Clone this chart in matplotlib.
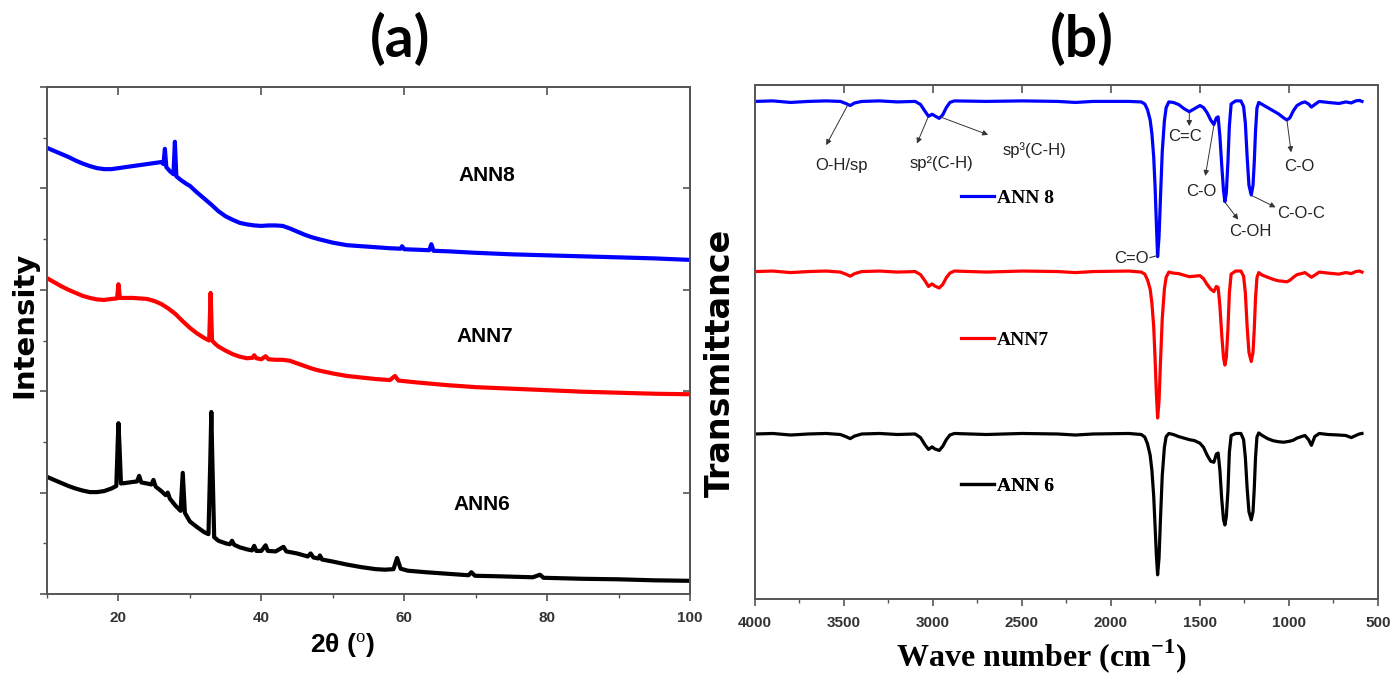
import numpy as np
import matplotlib
matplotlib.use("Agg")
import matplotlib.pyplot as plt
from matplotlib.ticker import MultipleLocator, NullFormatter

plt.rcParams['font.family'] = ['Liberation Sans', 'DejaVu Sans']
plt.rcParams['mathtext.fontset'] = 'custom'
plt.rcParams['mathtext.rm'] = 'Liberation Serif'
plt.rcParams['mathtext.bf'] = 'Liberation Serif:bold'

# ---------------- XRD data (2theta, offset intensity) ----------------
ann8_tt = [10, 11, 12, 13, 14, 15, 16, 17, 18, 19, 20, 21, 22, 23, 24, 25, 26.0, 26.3, 26.5, 26.7,
           27.2, 27.7, 27.9, 28.1, 28.6, 29.5, 30, 31, 32, 33, 34, 35, 36, 37, 38, 39, 40, 41, 42,
           43, 44, 45, 46, 47, 48, 50, 52, 54, 56, 58, 59.5, 59.7, 60, 62, 63.5, 63.8, 64.1, 66,
           70, 75, 80, 85, 90, 95, 100]
ann8_i = [8.80, 8.74, 8.68, 8.62, 8.55, 8.49, 8.44, 8.40, 8.38, 8.38, 8.40, 8.42, 8.44, 8.46, 8.48,
          8.50, 8.52, 8.48, 8.78, 8.42, 8.34, 8.28, 8.92, 8.24, 8.18, 8.09, 8.05, 7.92, 7.80, 7.68,
          7.55, 7.45, 7.38, 7.32, 7.29, 7.27, 7.26, 7.27, 7.27, 7.26, 7.21, 7.15, 7.09, 7.04, 7.00,
          6.93, 6.88, 6.86, 6.84, 6.82, 6.81, 6.86, 6.80, 6.79, 6.78, 6.90, 6.77, 6.76, 6.73, 6.70,
          6.68, 6.66, 6.64, 6.62, 6.59]

ann7_tt = [10, 11, 12, 13, 14, 15, 16, 17, 18, 19, 19.8, 20.0, 20.2, 21, 22, 23, 24, 25, 26, 27,
           28, 29, 30, 31, 32, 32.7, 32.9, 33.1, 33.5, 34, 35, 36, 37, 38, 38.8, 39.0, 39.3, 40,
           40.6, 41, 42, 43, 44, 45, 46, 47, 48, 50, 52, 54, 56, 58, 58.7, 59.2, 62, 66, 70, 75,
           80, 85, 90, 95, 100]
ann7_i = [6.23, 6.15, 6.07, 6.00, 5.94, 5.88, 5.84, 5.81, 5.80, 5.82, 5.83, 6.11, 5.84, 5.84, 5.84,
          5.83, 5.82, 5.78, 5.72, 5.63, 5.52, 5.38, 5.25, 5.14, 5.05, 5.00, 5.94, 5.00, 4.94, 4.88,
          4.80, 4.73, 4.68, 4.65, 4.66, 4.71, 4.65, 4.63, 4.69, 4.63, 4.62, 4.62, 4.60, 4.55, 4.50,
          4.45, 4.41, 4.35, 4.30, 4.27, 4.24, 4.22, 4.30, 4.21, 4.17, 4.12, 4.08, 4.05, 4.02, 3.99,
          3.97, 3.95, 3.94]

ann6_tt = [10, 11, 12, 13, 14, 15, 16, 17, 18, 19, 19.7, 19.9, 20.0, 20.15, 20.35, 21, 22, 22.6,
           22.9, 23.2, 24, 24.6, 24.9, 25.2, 26, 26.6, 26.9, 27.2, 28, 28.7, 29.0, 29.3, 30, 31, 32,
           32.6, 32.85, 33.0, 33.15, 33.4, 34, 35, 35.6, 35.9, 36.2, 37, 38, 38.7, 39.0, 39.3, 40,
           40.6, 40.9, 42, 43.1, 43.5, 45, 46.5, 46.9, 47.3, 48.0, 48.2, 48.5, 50, 52, 54, 56, 57.3,
           58.5, 59.0, 59.5, 60.5, 63, 66, 69, 69.4, 69.9, 73, 78, 79, 79.5, 85, 90, 95, 100]
ann6_i = [2.31, 2.25, 2.19, 2.13, 2.08, 2.04, 2.01, 2.01, 2.03, 2.08, 2.13, 3.00, 3.37, 2.90, 2.18,
          2.19, 2.21, 2.22, 2.33, 2.20, 2.18, 2.16, 2.25, 2.12, 2.03, 1.95, 2.00, 1.88, 1.74, 1.64,
          2.39, 1.60, 1.43, 1.32, 1.22, 1.18, 2.60, 3.59, 2.60, 1.12, 1.05, 1.00, 0.98, 1.05, 0.97,
          0.92, 0.88, 0.86, 0.95, 0.85, 0.85, 0.96, 0.85, 0.84, 0.93, 0.84, 0.80, 0.74, 0.80, 0.72,
          0.70, 0.76, 0.68, 0.64, 0.58, 0.53, 0.49, 0.48, 0.49, 0.71, 0.50, 0.46, 0.43, 0.40, 0.37,
          0.43, 0.36, 0.35, 0.33, 0.38, 0.32, 0.30, 0.29, 0.27, 0.26]

# ---------------- FTIR data (wavenumber, offset transmittance) ----------------
wn = [4000, 3900, 3800, 3700, 3600, 3520, 3490, 3465, 3440, 3400, 3300, 3200, 3100, 3070, 3045,
      3025, 3005, 2990, 2965, 2945, 2925, 2905, 2880, 2700, 2500, 2300, 2200, 2100, 1900, 1830,
      1810, 1795, 1780, 1770, 1760, 1752, 1745, 1738, 1730, 1722, 1712, 1700, 1690, 1675, 1650,
      1620, 1590, 1560, 1530, 1500, 1480, 1460, 1440, 1422, 1408, 1398, 1388, 1378, 1368, 1360,
      1352, 1343, 1335, 1325, 1300, 1270, 1255, 1245, 1235, 1225, 1212, 1202, 1195, 1188, 1180,
      1170, 1150, 1120, 1090, 1060, 1030, 1012, 995, 975, 955, 930, 910, 890, 874, 855, 830, 780,
      720, 680, 650, 625, 605, 590]

t_ann8 = [96.8, 96.9, 96.6, 96.8, 96.9, 96.8, 96.4, 96.0, 96.5, 96.8, 96.9, 96.7, 96.8, 96.2, 94.9,
          93.9, 94.3, 94.0, 93.5, 94.2, 95.6, 96.6, 96.9, 96.8, 96.9, 96.8, 96.6, 96.8, 96.8, 96.7,
          96.3, 95.2, 93.2, 90.5, 86.0, 80.0, 73.0, 66.6, 70.5, 78.0, 87.0, 93.0, 95.6, 96.7, 96.6,
          96.2, 95.4, 94.8, 95.4, 96.0, 95.6, 94.6, 93.2, 92.3, 93.6, 93.8, 90.0, 84.5, 79.5, 77.3,
          79.0, 85.0, 92.0, 96.3, 96.9, 96.9, 95.8, 92.5, 86.0, 80.5, 78.6, 80.5, 85.0, 91.0, 95.5,
          96.6, 96.2, 95.6, 95.0, 94.4, 93.6, 93.2, 93.6, 95.0, 96.0, 96.5, 96.7, 96.3, 95.7, 96.2,
          96.8, 96.6, 96.4, 96.7, 96.5, 96.9, 97.0, 96.8]

t_ann7 = [63.7, 63.8, 63.5, 63.7, 63.8, 63.6, 63.2, 62.8, 63.3, 63.7, 63.8, 63.6, 63.7, 63.1, 61.9,
          60.8, 61.3, 60.9, 60.5, 61.2, 62.5, 63.4, 63.8, 63.6, 63.8, 63.7, 63.5, 63.7, 63.8, 63.6,
          63.2, 62.1, 60.3, 57.5, 53.0, 46.5, 40.0, 35.2, 38.5, 46.0, 54.5, 60.3, 62.6, 63.6, 63.4,
          63.3, 63.0, 62.7, 62.8, 62.9, 62.3, 61.2, 60.3, 59.8, 60.8, 60.6, 57.0, 51.5, 47.0, 45.5,
          47.0, 52.5, 59.5, 63.2, 63.8, 63.8, 62.8, 59.5, 53.0, 48.0, 46.2, 48.0, 52.5, 58.5, 62.5,
          63.5, 63.0, 62.6, 62.2, 61.9, 61.8, 61.7, 62.0, 62.6, 63.1, 63.3, 63.5, 63.0, 62.6, 63.0,
          63.6, 63.4, 63.2, 63.5, 63.3, 63.7, 63.8, 63.6]

t_ann6 = [32.1, 32.2, 31.9, 32.1, 32.2, 32.0, 31.6, 31.2, 31.7, 32.1, 32.2, 32.0, 32.1, 31.4, 30.0,
          29.1, 29.6, 29.2, 28.9, 29.7, 31.0, 31.9, 32.2, 32.0, 32.2, 32.1, 31.9, 32.1, 32.2, 32.0,
          31.5, 30.2, 28.0, 25.0, 20.0, 14.0, 8.5, 4.7, 8.0, 15.5, 24.0, 29.5, 31.6, 32.2, 32.0,
          31.6, 31.3, 31.0, 30.8, 30.3, 29.5, 28.0, 26.8, 26.6, 28.2, 28.4, 25.0, 19.5, 15.5, 14.4,
          16.0, 21.0, 28.5, 31.8, 32.2, 32.2, 31.0, 27.5, 21.5, 17.0, 15.4, 17.0, 21.5, 27.5, 31.5,
          32.3, 31.8, 31.2, 30.8, 30.6, 30.5, 30.6, 30.7, 30.9, 31.3, 31.6, 31.8, 31.0, 29.9, 31.6,
          32.2, 32.0, 31.9, 31.8, 31.4, 31.8, 32.1, 32.2]

# band labels: (text, label x, label y, arrow start on curve, arrow end near label)
bands = [
    ("O-H/sp",   3515, 84.4, (3477, 96.2), (3600, 88.3)),
    ("sp²(C-H)", 2950, 84.8, (3028, 93.7), (3090, 88.6)),
    ("sp³(C-H)", 2430, 87.4, (2960, 93.8), (2690, 90.3)),
    ("C=C",      1585, 89.9, (1560, 94.6), (1560, 92.0)),
    ("C-O",      1492, 79.3, (1422, 92.1), (1470, 82.3)),
    ("C-OH",     1215, 71.5, (1360, 77.2), (1285, 73.8)),
    ("C-O-C",     930, 75.0, (1210, 78.5), (1075, 76.2)),
    ("C-O",       940, 84.2, (1011, 93.0), (988, 86.9)),
]

fig = plt.figure(figsize=(13.95, 6.83), dpi=100)
ax1 = fig.add_axes([0.0337, 0.1303, 0.4609, 0.7423])
ax2 = fig.add_axes([0.5412, 0.1230, 0.4466, 0.7526])

spine_col = '#555555'

# ---------- (a) XRD ----------
ax1.plot(ann6_tt, ann6_i, color='black', lw=3.0)
ax1.plot(ann7_tt, ann7_i, color='#ff0000', lw=3.0)
ax1.plot(ann8_tt, ann8_i, color='#0000ff', lw=3.0)
ax1.set_xlim(10, 100)
ax1.set_ylim(0, 10)
ax1.text(71.6, 8.25, 'ANN8', fontsize=15, fontweight='bold', ha='center', va='center')
ax1.text(71.3, 5.08, 'ANN7', fontsize=15, fontweight='bold', ha='center', va='center')
ax1.text(70.8, 1.76, 'ANN6', fontsize=15, fontweight='bold', ha='center', va='center')

ax1.xaxis.set_major_locator(MultipleLocator(20))
ax1.xaxis.set_minor_locator(MultipleLocator(10))
ax1.yaxis.set_major_locator(MultipleLocator(2))
ax1.yaxis.set_minor_locator(MultipleLocator(1))
ax1.yaxis.set_major_formatter(NullFormatter())
ax1.tick_params(axis='x', which='major', direction='out', length=5, width=1.2,
                labelsize=11, pad=7, color=spine_col)
ax1.tick_params(axis='x', which='minor', direction='out', length=3, width=1.0, color=spine_col)
ax1.tick_params(axis='y', which='major', direction='out', length=5, width=1.2, color=spine_col)
ax1.tick_params(axis='y', which='minor', direction='out', length=3, width=1.0, color=spine_col)
for lab in ax1.get_xticklabels():
    lab.set_fontweight('bold')
    lab.set_color('#333333')

top1 = ax1.secondary_xaxis('top')
top1.set_xticks([20, 40, 60, 80])
top1.tick_params(direction='in', length=6, width=1.2, labeltop=False, color=spine_col)
right1 = ax1.secondary_yaxis('right')
right1.set_yticks([2, 4, 6, 8])
right1.tick_params(direction='in', length=5, width=1.2, labelright=False, color=spine_col)
for sp in list(ax1.spines.values()) + [top1.spines['top'], right1.spines['right']]:
    sp.set_color(spine_col)
    sp.set_linewidth(1.4)

ax1.set_xlabel('2θ ($^{\\rm o}$)', fontsize=19, fontweight='bold')
ax1.xaxis.set_label_coords(0.459, -0.072)
ax1.set_ylabel('Intensity', fontsize=21, fontweight='bold', family=['DejaVu Sans'])
ax1.yaxis.set_label_coords(-0.014, 0.53)

# ---------- (b) FTIR ----------
l6, = ax2.plot(wn, t_ann6, color='black', lw=2.3)
l7, = ax2.plot(wn, t_ann7, color='#ff0000', lw=2.3)
l8, = ax2.plot(wn, t_ann8, color='#0000ff', lw=2.3)
ax2.set_xlim(4000, 500)
ax2.set_ylim(0, 100)
ax2.set_yticks([])

for handle, name, ypos in [(l8, 'ANN 8', 0.780), (l7, 'ANN7', 0.504), (l6, 'ANN 6', 0.220)]:
    leg = ax2.legend([handle], [name], loc='center left', bbox_to_anchor=(0.330, ypos),
                     frameon=False, handlelength=1.7, handletextpad=0.15, borderpad=0,
                     borderaxespad=0, prop={'family': 'Liberation Serif', 'weight': 'bold',
                                            'size': 14})
    ax2.add_artist(leg)

for name, tx, ty, start, end in bands:
    ax2.text(tx, ty, name, fontsize=12, color='#222222', ha='center', va='center')
    ax2.annotate('', xy=end, xytext=start,
                 arrowprops=dict(arrowstyle='-|>', color='#333333', lw=0.7,
                                 mutation_scale=8, shrinkA=0, shrinkB=0))

ax2.text(1790, 66.2, 'C=O', fontsize=12, color='#222222', ha='right', va='center')
ax2.annotate('', xy=(1740, 66.8), xytext=(1782, 66.4),
             arrowprops=dict(arrowstyle='-', color='#333333', lw=0.8, shrinkA=0, shrinkB=0))

ax2.xaxis.set_major_locator(MultipleLocator(500))
ax2.xaxis.set_minor_locator(MultipleLocator(250))
ax2.tick_params(axis='x', which='major', direction='out', length=5, width=1.2,
                labelsize=11, pad=7, color=spine_col)
ax2.tick_params(axis='x', which='minor', direction='out', length=3, width=1.0, color=spine_col)
for lab in ax2.get_xticklabels():
    lab.set_fontweight('bold')
    lab.set_color('#333333')
top2 = ax2.secondary_xaxis('top')
top2.set_xticks([3500, 3000, 2500, 2000, 1500, 1000])
top2.tick_params(direction='in', length=6, width=1.2, labeltop=False, color=spine_col)
for sp in list(ax2.spines.values()) + [top2.spines['top']]:
    sp.set_color(spine_col)
    sp.set_linewidth(1.4)

ax2.set_xlabel('Wave number (cm$^{\\mathbf{-1}}$)', fontsize=23, fontweight='bold',
               family=['Liberation Serif'])
ax2.xaxis.set_label_coords(0.46, -0.075)
ax2.set_ylabel('Transmittance', fontsize=24, fontweight='bold', family=['DejaVu Sans'])
ax2.yaxis.set_label_coords(-0.029, 0.46)

fig.text(400 / 1395, 1 - 40 / 683, '(a)', fontsize=41, fontweight='bold',
         family=['Lato', 'DejaVu Sans'], ha='center', va='center')
fig.text(1082 / 1395, 1 - 40 / 683, '(b)', fontsize=41, fontweight='bold',
         family=['Lato', 'DejaVu Sans'], ha='center', va='center')

fig.savefig('out.png', dpi=100)
